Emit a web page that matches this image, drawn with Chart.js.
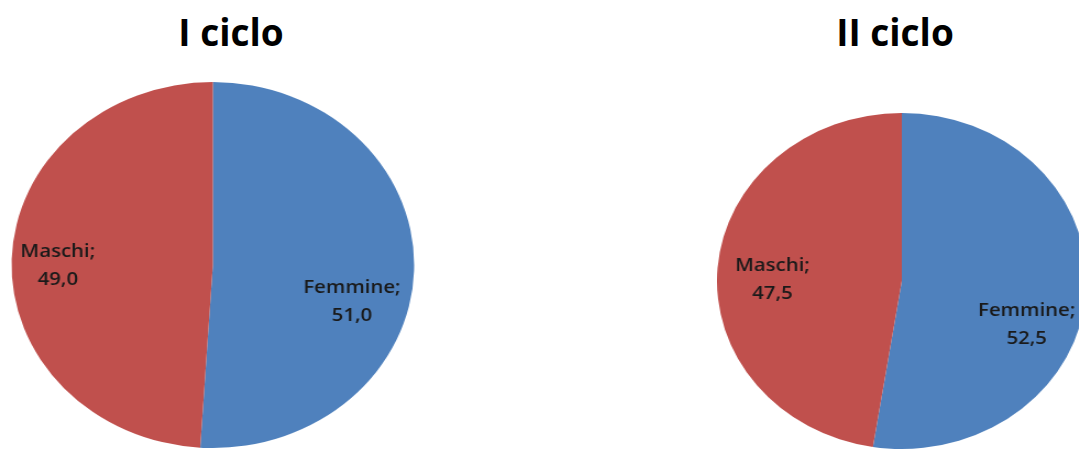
<!DOCTYPE html>
<html lang="it">
<head>
<meta charset="UTF-8">
<title>Maschi e femmine per ciclo</title>
<script src="https://cdn.jsdelivr.net/npm/chart.js"></script>
<style>
    html, body {
        margin: 0;
        padding: 0;
        background: #fff;
    }
    body {
        position: relative;
        width: 1079px;
        height: 450px;
        overflow: hidden;
        font-family: "Open Sans", sans-serif;
    }
    .titolo {
        position: absolute;
        top: 13px;
        width: 240px;
        text-align: center;
        font-size: 37px;
        font-weight: bold;
        line-height: 37px;
        color: #000;
    }
    /* the pies are drawn round and then stretched sideways */
    .torta {
        position: absolute;
        top: 0;
        height: 450px;
        transform: scaleX(1.1);
        transform-origin: 0 0;
    }
</style>
</head>
<body>

<div class="titolo" id="titolo1" style="left: 111px;"></div>
<div class="titolo" id="titolo2" style="left: 775px;"></div>

<div class="torta" style="left: 0; width: 387px;"><canvas id="torta1"></canvas></div>
<div class="torta" style="left: 717px; width: 336px;"><canvas id="torta2"></canvas></div>

<script>
    // dati
    const categorie = ['Femmine', 'Maschi'];
    const cicloI = [51.0, 49.0];
    const cicloII = [52.5, 47.5];
    const titoli = ['I ciclo', 'II ciclo'];
    const colori = ['#4F81BD', '#C0504D'];

    // where the labels sit: shift from the slice's middle angle (deg) and fraction of radius
    const spostamentoI = [14.5, -2.2];
    const raggioI = [0.72, 0.77];
    const spostamentoII = [16.7, -4];
    const raggioII = [0.725, 0.70];

    const formatta = v => v.toFixed(1).replace('.', ',');

    // "Categoria;" on one line and the value under it, inside each slice
    const etichette = {
        id: 'etichette',
        afterDatasetsDraw(chart, args, opts) {
            const ctx = chart.ctx;
            const meta = chart.getDatasetMeta(0);
            const valori = chart.data.datasets[0].data;
            ctx.save();
            ctx.font = '600 18.5px "Open Sans", sans-serif';
            ctx.fillStyle = '#1a1a1a';
            ctx.textAlign = 'center';
            ctx.textBaseline = 'middle';
            meta.data.forEach((arco, i) => {
                const a = (arco.startAngle + arco.endAngle) / 2 + opts.spostamento[i] * Math.PI / 180;
                const r = arco.outerRadius * opts.raggio[i];
                const x = arco.x + Math.cos(a) * r;
                const y = arco.y + Math.sin(a) * r;
                ctx.fillText(chart.data.labels[i] + ';', x, y - 14);
                ctx.fillText(formatta(valori[i]), x, y + 14);
            });
            ctx.restore();
        }
    };

    function torta(id, valori, padding, spostamento, raggio) {
        return new Chart(document.getElementById(id), {
            type: 'pie',
            data: {
                labels: categorie,
                datasets: [{
                    data: valori,
                    backgroundColor: colori,
                    borderWidth: 0,
                    hoverOffset: 0
                }]
            },
            options: {
                responsive: true,
                maintainAspectRatio: false,
                animation: false,
                layout: { padding: padding },
                plugins: {
                    legend: { display: false },
                    tooltip: { enabled: false },
                    etichette: { spostamento: spostamento, raggio: raggio }
                }
            },
            plugins: [etichette]
        });
    }

    document.getElementById('titolo1').textContent = titoli[0];
    document.getElementById('titolo2').textContent = titoli[1];

    torta('torta1', cicloI, { top: 82, bottom: 2, left: 0, right: 0 }, spostamentoI, raggioI);
    torta('torta2', cicloII, { top: 113, bottom: 1, left: 0, right: 0 }, spostamentoII, raggioII);
</script>

</body>
</html>
